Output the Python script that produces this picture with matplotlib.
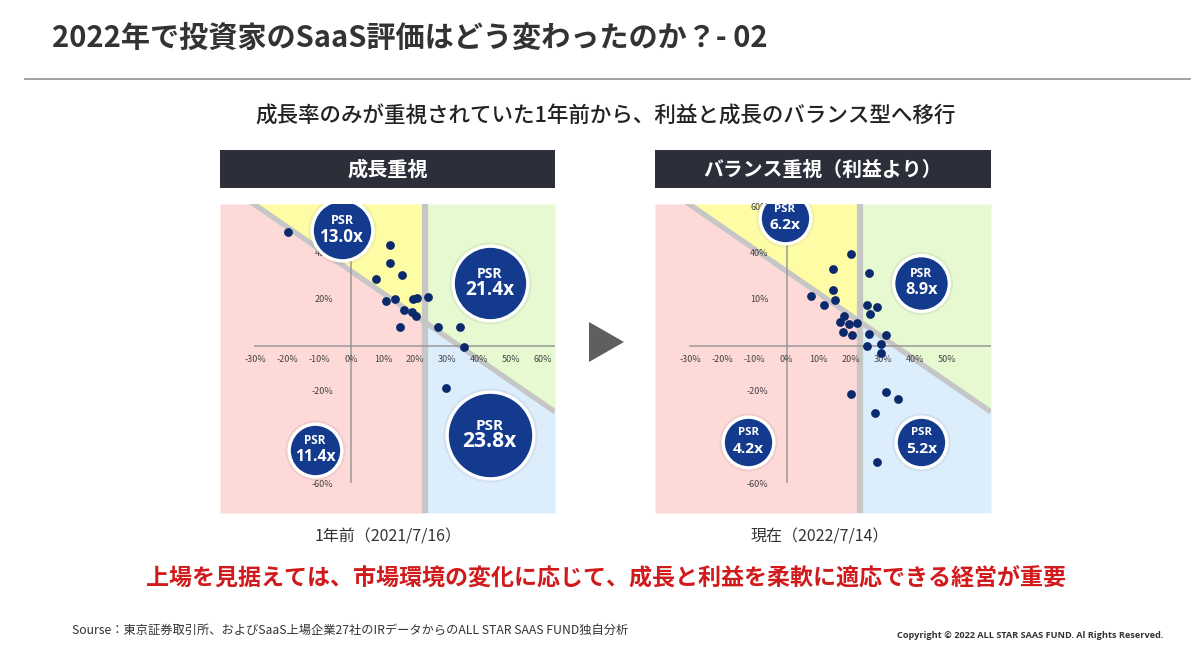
import numpy as np
import matplotlib.pyplot as plt
from matplotlib.patches import Rectangle, Polygon

plt.rcParams['font.family'] = ['Noto Sans CJK JP', 'DejaVu Sans']

# %% データ（画像からの読み取り値: x = 売上成長率 %, y = 利益率 %）

growth_2021 = [-19.7, 12.1, 12.1, 15.9, 7.8, 10.9, 13.6, 19.4, 20.6, 24.1,
               16.6, 18.9, 20.3, 15.3, 27.1, 34.0, 35.4, 29.7]
margin_2021 = [49.7, 43.9, 35.9, 30.9, 29.0, 19.7, 20.6, 20.3, 20.8, 21.3,
               15.8, 14.9, 12.9, 8.1, 8.1, 8.1, -0.6, -18.4]

growth_2022 = [20.1, 14.6, 25.8, 14.6, 7.6, 15.0, 11.7, 25.2, 28.3, 17.8,
               26.0, 16.6, 19.3, 22.1, 17.5, 20.3, 25.8, 30.9, 25.2, 29.4,
               29.4, 20.1, 30.9, 34.8, 27.4, 28.3]
margin_2022 = [40.1, 33.6, 31.6, 24.3, 21.9, 19.9, 17.8, 17.8, 17.1, 13.2,
               13.9, 10.6, 9.7, 9.9, 6.2, 4.8, 5.2, 4.8, 0.1, 0.9,
               -2.9, -21.0, -19.9, -23.0, -29.1, -50.3]

# 象限ごとの PSR（左上, 右上, 左下, 右下）
psr_2021 = ['13.0x', '21.4x', '11.4x', '23.8x']
psr_2022 = ['6.2x', '8.9x', '4.2x', '5.2x']

xtick_2021 = [-30, -20, -10, 0, 10, 20, 30, 40, 50, 60]
xtick_2022 = [-30, -20, -10, 0, 10, 20, 30, 40, 50]
ytick_pos_2021 = [40, 20, -20, -60]
ytick_lab_2021 = ['40%', '20%', '-20%', '-60%']
ytick_pos_2022 = [60, 40, 20, -20, -60]
ytick_lab_2022 = ['60%', '40%', '10%', '-20%', '-60%']

# %% レイアウト設定

W, H = 1200, 657
XMIN, XMAX = -41.0, 63.7
YMIN, YMAX = -72.6, 61.7
X_DIV = 23.0
LINE_B, LINE_M = 32.5, -0.96

C_PINK = '#fdd9d8'
C_YELLOW = '#fffca6'
C_GREEN = '#e6f9d0'
C_BLUE = '#dcedfc'
C_SEP = '#c6c6c6'
C_DOT = '#0b2a6e'
C_BUBBLE = '#133a8c'
C_HEAD = '#2c2f3a'


def fx(px):
    return px / W


def fy(py):
    return 1 - py / H


def draw_panel(left_px, right_px, growth, margin, psr, xticks, ytick_pos, ytick_lab,
               bubble_pos, bubble_r):
    ax = fig.add_axes([fx(left_px), fy(513), fx(right_px - left_px), (513 - 204) / H])
    ax.set_xlim(XMIN, XMAX)
    ax.set_ylim(YMIN, YMAX)
    ax.axis('off')

    xl = np.linspace(XMIN, X_DIV, 60)
    xr = np.linspace(X_DIV, XMAX, 60)
    yl = np.clip(LINE_B + LINE_M * xl, YMIN, YMAX)
    yr = np.clip(LINE_B + LINE_M * xr, YMIN, YMAX)
    ax.fill_between(xl, YMIN, yl, color=C_PINK, lw=0, zorder=0)
    ax.fill_between(xl, yl, YMAX, color=C_YELLOW, lw=0, zorder=0)
    ax.fill_between(xr, yr, YMAX, color=C_GREEN, lw=0, zorder=0)
    ax.fill_between(xr, YMIN, yr, color=C_BLUE, lw=0, zorder=0)

    xs = np.array([XMIN, XMAX])
    ax.plot(xs, LINE_B + LINE_M * xs, color=C_SEP, lw=3.8, zorder=1, solid_capstyle='butt')
    ax.plot([X_DIV, X_DIV], [YMIN, YMAX], color=C_SEP, lw=4.5, zorder=1, solid_capstyle='butt')

    # 軸
    ax.plot([-30, XMAX], [0, 0], color='#999999', lw=1.1, zorder=2)
    ax.plot([0, 0], [-59, YMAX], color='#999999', lw=1.1, zorder=2)

    for t in xticks:
        ax.annotate('{0}%'.format(t), (t, 0), xytext=(0, -10), textcoords='offset points',
                    ha='center', va='center', fontsize=6.5, color='#444444', zorder=3)
    for p, lab in zip(ytick_pos, ytick_lab):
        ax.annotate(lab, (0, p), xytext=(-13, 0), textcoords='offset points',
                    ha='right', va='center', fontsize=6.5, color='#444444', zorder=3)

    ax.scatter(growth, margin, s=40, color=C_DOT, zorder=4, lw=0)

    for (bx, by), r, label in zip(bubble_pos, bubble_r, psr):
        r_pt = r * 0.72
        ew = 2.4
        s = (2 * (r_pt - ew / 2)) ** 2
        ax.scatter([bx], [by], s=(2 * r_pt + 3) ** 2, color='#000000', alpha=0.05, lw=0, zorder=5)
        ax.scatter([bx], [by], s=s, color=C_BUBBLE, edgecolors='white', linewidths=ew, zorder=6)
        ax.annotate('PSR', (bx, by), xytext=(0, 6.5), textcoords='offset points',
                    ha='center', va='center', fontsize=4.2 + 0.15 * r, color='white',
                    fontweight='bold', family=['Open Sans', 'DejaVu Sans'], zorder=7)
        ax.annotate(label, (bx, by), xytext=(0, -5), textcoords='offset points',
                    ha='center', va='center', fontsize=5.2 + 0.22 * r, color='white',
                    fontweight='bold', family=['Open Sans', 'DejaVu Sans'], zorder=7)
    return ax


def header(left_px, right_px, text, size):
    fig.patches.append(Rectangle((fx(left_px), fy(188)), fx(right_px - left_px), 38 / H,
                                 transform=fig.transFigure, facecolor=C_HEAD, lw=0))
    fig.text(fx((left_px + right_px) / 2), fy(169), text, ha='center', va='center',
             fontsize=size, fontweight='bold', color='white')


# %% 描画

fig = plt.figure(figsize=(12, 6.57), dpi=100)
fig.patch.set_facecolor('white')

fig.text(fx(52), fy(38), '2022年で投資家のSaaS評価はどう変わったのか？- 02',
         ha='left', va='center', fontsize=21, fontweight='bold', color='#333333')
fig.add_artist(plt.Line2D([fx(25), fx(1190)], [fy(79), fy(79)], color='#9a9a9a', lw=1.3))

fig.text(fx(606), fy(116), '成長率のみが重視されていた1年前から、利益と成長のバランス型へ移行',
         ha='center', va='center', fontsize=15.5, fontweight='medium', color='#222222')

header(220, 555, '成長重視', 14.5)
header(655, 991, 'バランス重視（利益より）', 14.3)

draw_panel(220, 555, growth_2021, margin_2021, psr_2021, xtick_2021,
           ytick_pos_2021, ytick_lab_2021,
           [(-2.8, 50.4), (43.3, 27.3), (-11.3, -45.2), (43.3, -38.7)],
           [32, 39, 28, 45])
draw_panel(655, 991, growth_2022, margin_2022, psr_2022, xtick_2022,
           ytick_pos_2022, ytick_lab_2022,
           [(-0.5, 55.5), (42.0, 27.5), (-12.0, -41.6), (42.0, -41.6)],
           [27, 29.5, 27, 27])

fig.patches.append(Polygon([(fx(589), fy(322)), (fx(589), fy(362)), (fx(624), fy(342))],
                           closed=True, transform=fig.transFigure, facecolor='#5f5f5f', lw=0))

fig.text(fx(388), fy(537), '1年前（2021/7/16）', ha='center', va='center', fontsize=11.5, color='#333333')
fig.text(fx(820), fy(537), '現在（2022/7/14）', ha='center', va='center', fontsize=11.5, color='#333333')

fig.text(fx(606), fy(579), '上場を見据えては、市場環境の変化に応じて、成長と利益を柔軟に適応できる経営が重要',
         ha='center', va='center', fontsize=16.6, fontweight='bold', color='#d11a1c')

fig.text(fx(72), fy(630), 'Sourse：東京証券取引所、およびSaaS上場企業27社のIRデータからのALL STAR SAAS FUND独自分析',
         ha='left', va='center', fontsize=8.8, color='#333333')
fig.text(fx(1163), fy(635), 'Copyright © 2022 ALL STAR SAAS FUND. Al Rights Reserved.',
         ha='right', va='center', fontsize=6.6, fontweight='bold', color='#333333',
         family=['Open Sans', 'DejaVu Sans'])

fig.savefig('out.png', dpi=100)
